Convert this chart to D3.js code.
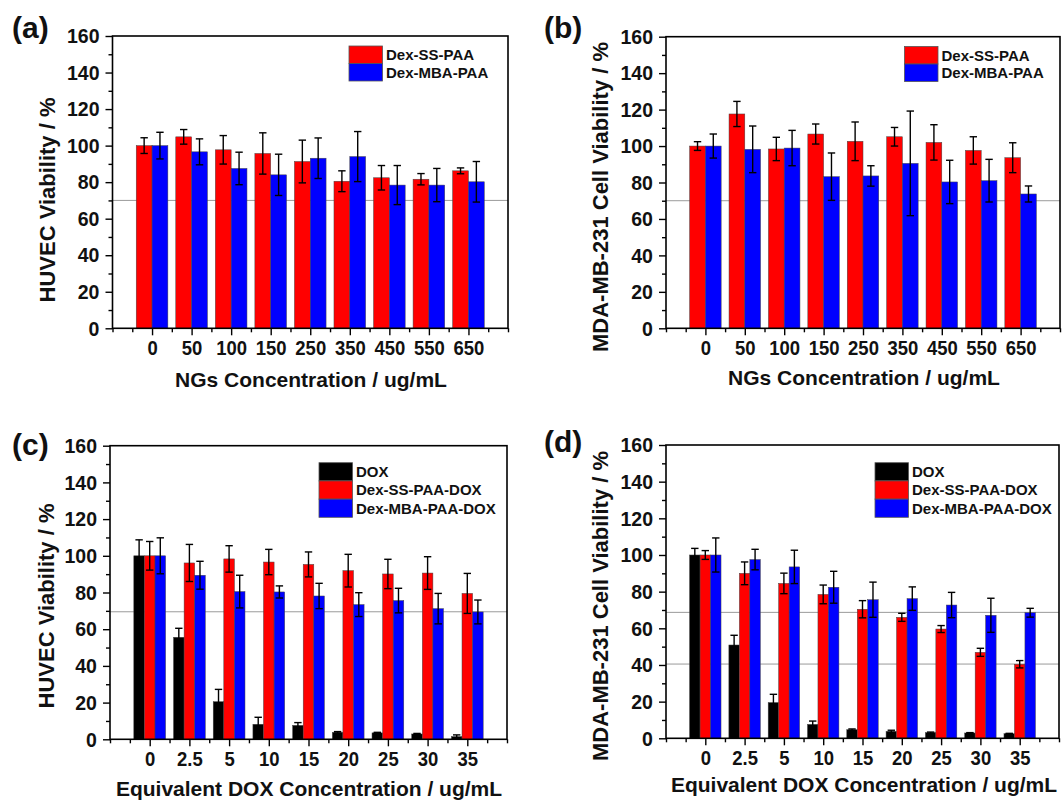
<!DOCTYPE html>
<html>
<head>
<meta charset="utf-8">
<script src="https://cdn.jsdelivr.net/npm/d3@7"></script>
<style>
body { margin: 0; background: #fff; }
svg text { font-family: "Liberation Sans", Arial, sans-serif; font-weight: bold; fill: #111; }
</style>
</head>
<body>
<script>
// categories
var ngConc  = ["0", "50", "100", "150", "250", "350", "450", "550", "650"];
var doxConc = ["0", "2.5", "5", "10", "15", "20", "25", "30", "35"];
var yTicks  = [0, 20, 40, 60, 80, 100, 120, 140, 160];

// (a) HUVEC, blank NGs
var huvecSS     = [100, 104.8, 97.7, 95.7, 91.3, 80.5, 82.4, 81.6, 86.2];
var huvecSSErr  = [4.3, 4, 7.8, 11.3, 11.7, 5.7, 6.7, 3.1, 1.6];
var huvecMBA    = [100, 96.6, 87.5, 84, 93.1, 94, 78.4, 78.4, 80.2];
var huvecMBAErr = [7.3, 7.1, 8.9, 11.3, 11.1, 13.7, 10.7, 9.1, 11.1];

// (b) MDA-MB-231, blank NGs
var mdaSS     = [100, 117.6, 98.4, 106.6, 102.6, 105.1, 102, 97.6, 93.6];
var mdaSSErr  = [2.4, 6.9, 6.4, 5.5, 10.6, 5.1, 9.7, 7.5, 8.2];
var mdaMBA    = [100, 98.2, 98.9, 83.2, 83.6, 90.5, 80.3, 81, 73.7];
var mdaMBAErr = [6.6, 12.8, 9.7, 13, 5.6, 28.7, 11.9, 11.7, 4.4];

// (c) HUVEC, DOX loaded
var huvecDox       = [100, 55.6, 20.5, 8.2, 7.6, 3.8, 3.5, 2.9, 1.5];
var huvecDoxErr    = [8.7, 4.9, 6.7, 3.8, 1.5, 0.4, 0.3, 0.3, 0.9];
var huvecSSDox     = [100, 96.1, 98.3, 96.6, 95.3, 91.9, 90.1, 90.6, 79.5];
var huvecSSDoxErr  = [7.8, 10.1, 7.2, 6.9, 6.8, 8.9, 8, 8.9, 10.9];
var huvecMBADox    = [100, 89.4, 80.5, 80.3, 78.1, 73.4, 75.6, 71.2, 69.4];
var huvecMBADoxErr = [9.8, 7.6, 8.9, 3.3, 6.9, 6.5, 6.7, 8.3, 6.5];

// (d) MDA-MB-231, DOX loaded
var mdaDox       = [100, 50.9, 19.5, 7.6, 4.7, 3.8, 3.1, 2.9, 2.5];
var mdaDoxErr    = [3.6, 5.3, 4.5, 1.8, 0.4, 0.6, 0.3, 0.2, 0.2];
var mdaSSDox     = [100, 90, 84.5, 78.5, 70.4, 66, 59.6, 46.9, 40.4];
var mdaSSDoxErr  = [2.4, 6.2, 5.6, 5.1, 4.7, 2.2, 1.9, 2.2, 2];
var mdaMBADox    = [100, 97.5, 93.5, 82.4, 75.6, 76.2, 72.7, 67.1, 68.5];
var mdaMBADoxErr = [9.3, 5.6, 9.1, 8.7, 9.6, 6.4, 6.9, 9.3, 2.4];

// reference lines
var refA = [70], refB = [70], refC = [69.5], refD = [68.7, 40.5];

var RED = "#ff0000", BLUE = "#0000ff", BLACK = "#000000";

var svg = d3.select("body").append("svg").attr("width", 1062).attr("height", 800);

var panels = [
	{ tag: "(a)", tagX: 12, tagY: 38, left: 112.5, right: 508, top: 36, bottom: 328.3,
	  cats: ngConc, refs: refA, ytitle: "HUVEC Viability / %", ytx: 47, yty: 200,
	  xtitle: "NGs Concentration / ug/mL", xtx: 311, xty: 386.5,
	  legX: 349, legY: 46, legH: 17.5,
	  series: [ { name: "Dex-SS-PAA", c: RED, v: huvecSS, e: huvecSSErr },
	            { name: "Dex-MBA-PAA", c: BLUE, v: huvecMBA, e: huvecMBAErr } ] },
	{ tag: "(b)", tagX: 544, tagY: 38, left: 666, right: 1060, top: 36.7, bottom: 328.3,
	  cats: ngConc, refs: refB, ytitle: "MDA-MB-231 Cell Viability / %", ytx: 600, yty: 197,
	  xtitle: "NGs Concentration / ug/mL", xtx: 864, xty: 385,
	  legX: 904.5, legY: 46.5, legH: 17.5,
	  series: [ { name: "Dex-SS-PAA", c: RED, v: mdaSS, e: mdaSSErr },
	            { name: "Dex-MBA-PAA", c: BLUE, v: mdaMBA, e: mdaMBAErr } ] },
	{ tag: "(c)", tagX: 12, tagY: 455, left: 110, right: 507, top: 445.7, bottom: 739.3,
	  cats: doxConc, refs: refC, ytitle: "HUVEC Viability / %", ytx: 46, yty: 606,
	  xtitle: "Equivalent DOX Concentration / ug/mL", xtx: 309, xty: 795.5,
	  legX: 319, legY: 462.7, legH: 18.2,
	  series: [ { name: "DOX", c: BLACK, v: huvecDox, e: huvecDoxErr },
	            { name: "Dex-SS-PAA-DOX", c: RED, v: huvecSSDox, e: huvecSSDoxErr },
	            { name: "Dex-MBA-PAA-DOX", c: BLUE, v: huvecMBADox, e: huvecMBADoxErr } ] },
	{ tag: "(d)", tagX: 544, tagY: 452, left: 666, right: 1059, top: 445, bottom: 738.3,
	  cats: doxConc, refs: refD, ytitle: "MDA-MB-231 Cell Viability / %", ytx: 600, yty: 606,
	  xtitle: "Equivalent DOX Concentration / ug/mL", xtx: 864, xty: 791.5,
	  legX: 875, legY: 462.7, legH: 18.2,
	  series: [ { name: "DOX", c: BLACK, v: mdaDox, e: mdaDoxErr },
	            { name: "Dex-SS-PAA-DOX", c: RED, v: mdaSSDox, e: mdaSSDoxErr },
	            { name: "Dex-MBA-PAA-DOX", c: BLUE, v: mdaMBADox, e: mdaMBADoxErr } ] }
];

panels.forEach(drawPanel);

function drawPanel(p) {
	var g = svg.append("g");
	var x = d3.scaleLinear().domain([0, 10]).range([p.left, p.right]);
	var y = d3.scaleLinear().domain([0, 160]).range([p.bottom, p.top]);
	var bw = 0.8 / p.series.length;
	var idx = d3.range(1, p.cats.length + 1);

	// reference lines, behind the bars
	g.selectAll(".ref").data(p.refs).enter().append("line")
		.attr("x1", p.left).attr("x2", p.right)
		.attr("y1", d => y(d)).attr("y2", d => y(d))
		.attr("stroke", "#9a9a9a").attr("stroke-width", 1);

	// bars
	p.series.forEach(function(s, si) {
		var off = -0.4 + bw * si;
		g.append("g").selectAll("rect").data(s.v).enter().append("rect")
			.attr("x", (d, i) => x(i + 1 + off))
			.attr("width", x(bw) - x(0))
			.attr("y", d => y(d))
			.attr("height", d => y(0) - y(d))
			.attr("fill", s.c)
			.attr("stroke", "#444").attr("stroke-width", 0.5);
	});

	// error bars
	p.series.forEach(function(s, si) {
		var off = -0.4 + bw * si + bw / 2;
		var eg = g.append("g").attr("stroke", "#000").attr("stroke-width", 1.4);
		s.v.forEach(function(d, i) {
			var cx = x(i + 1 + off), e = s.e[i];
			eg.append("line").attr("x1", cx).attr("x2", cx).attr("y1", y(d - e)).attr("y2", y(d + e));
			eg.append("line").attr("x1", cx - 3.7).attr("x2", cx + 3.7).attr("y1", y(d + e)).attr("y2", y(d + e));
			eg.append("line").attr("x1", cx - 3.7).attr("x2", cx + 3.7).attr("y1", y(d - e)).attr("y2", y(d - e));
		});
	});

	// axes
	var yAx = g.append("g").attr("transform", "translate(" + p.left + ",0)")
		.call(d3.axisLeft(y).tickValues(yTicks).tickSize(7).tickPadding(7));
	var yMin = g.append("g").attr("transform", "translate(" + p.left + ",0)")
		.call(d3.axisLeft(y).tickValues(d3.range(10, 160, 20)).tickSize(4).tickFormat(""));
	var xAx = g.append("g").attr("transform", "translate(0," + p.bottom + ")")
		.call(d3.axisBottom(x).tickValues(idx).tickSize(7).tickPadding(5).tickFormat(i => p.cats[i - 1]));
	var xMin = g.append("g").attr("transform", "translate(0," + p.bottom + ")")
		.call(d3.axisBottom(x).tickValues([0].concat(d3.range(0.5, 10, 1), [10])).tickSize(4).tickFormat(""));

	[yAx, yMin, xAx, xMin].forEach(function(a) {
		a.select(".domain").remove();
		a.selectAll("line").attr("stroke", "#000").attr("stroke-width", 1.4);
		a.selectAll("text").attr("font-size", 21).attr("fill", "#111");
	});
	// the tick digits of the original are a little narrow
	xAx.selectAll("text").attr("transform", "scale(0.88,1)");
	yAx.selectAll("text").attr("transform", "scale(0.93,1)");

	// frame
	g.append("rect")
		.attr("x", p.left).attr("y", p.top)
		.attr("width", p.right - p.left).attr("height", p.bottom - p.top)
		.attr("fill", "none").attr("stroke", "#000").attr("stroke-width", 1.6);

	// titles
	g.append("text").attr("x", p.tagX).attr("y", p.tagY).attr("font-size", 30).text(p.tag);
	g.append("text")
		.attr("transform", "translate(" + p.ytx + "," + p.yty + ") rotate(-90)")
		.attr("text-anchor", "middle").attr("dy", "0.36em")
		.attr("font-size", 22).text(p.ytitle);
	g.append("text").attr("x", p.xtx).attr("y", p.xty)
		.attr("text-anchor", "middle").attr("font-size", 21).text(p.xtitle);

	// legend
	var lg = g.append("g");
	p.series.forEach(function(s, si) {
		var ty = p.legY + si * p.legH;
		lg.append("rect").attr("x", p.legX).attr("y", ty)
			.attr("width", 33.5).attr("height", p.legH)
			.attr("fill", s.c).attr("stroke", "#555").attr("stroke-width", 0.8);
		lg.append("text").attr("x", p.legX + 37).attr("y", ty + p.legH / 2)
			.attr("dy", "0.36em").attr("font-size", 15).text(s.name);
	});
}
</script>
</body>
</html>
